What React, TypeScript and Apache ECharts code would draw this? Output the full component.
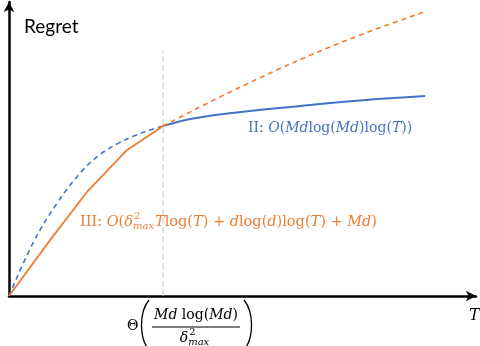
import React, { useEffect, useRef } from "react";
import * as echarts from "echarts";

// Abstract axis units: T from 0 to 100, Regret from 0 to 100
const thresholdT = 33.0;
const thresholdTop = 83.7;

const orangeSolid: [number, number][] = [
  [0, 0], [8.8, 19.0], [16.7, 35.4], [25.3, 49.7], [33.0, 57.8],
];
const orangeDashed: [number, number][] = [
  [33.0, 57.8], [50.5, 71.8], [70.9, 86.1], [88.9, 96.6],
];
const blueDashed: [number, number][] = [
  [0, 0], [5.14, 18.0], [10.3, 31.6], [15.85, 42.9], [19.5, 48.1],
  [23.1, 51.7], [26.6, 54.3], [30.2, 56.5], [33.0, 57.8],
];
const blueSolid: [number, number][] = [
  [33.0, 57.8], [39.4, 60.35], [46.7, 62.05], [60.8, 64.4], [75.2, 66.5], [89.1, 68.0],
];

const ORANGE = "#ED7D31";
const BLUE = "#4472C4";
const FAMILY = "'DejaVu Serif'";

// formula pieces: [text, italic] or {sup, sub}
type Piece = [string, boolean] | { sup: string; sub: string };

const labelII: Piece[] = [
  ["II: ", false], ["O", true], ["(", false], ["Md", true], ["log(", false],
  ["Md", true], [")log(", false], ["T", true], ["))", false],
];
const labelIII: Piece[] = [
  ["III: ", false], ["O", true], ["(", false], ["δ", true], { sup: "2", sub: "max" },
  ["T", true], ["log(", false], ["T", true], [") + ", false], ["d", true],
  ["log(", false], ["d", true], [")log(", false], ["T", true], [") + ", false],
  ["Md", true], [")", false],
];
const numerator: Piece[] = [
  ["Md", true], [" log(", false], ["Md", true], [")", false],
];
const denominator: Piece[] = [["δ", true], { sup: "2", sub: "max" }];

let ctx: CanvasRenderingContext2D | null = null;
function measure(text: string, font: string) {
  if (!ctx) ctx = document.createElement("canvas").getContext("2d");
  if (!ctx) return text.length * 8;
  ctx.font = font;
  return ctx.measureText(text).width;
}

function formula(
  pieces: Piece[], x0: number, y: number, size: number, color: string,
  align: "left" | "center" = "left"
) {
  const small = Math.round(size * 0.7);
  const items: { text: string; font: string; dx: number; dy: number }[] = [];
  let x = 0;
  for (const p of pieces) {
    if (Array.isArray(p)) {
      const font = `${p[1] ? "italic " : ""}${size}px ${FAMILY}`;
      items.push({ text: p[0], font, dx: x, dy: 0 });
      x += measure(p[0], font);
    } else {
      const fs = `${small}px ${FAMILY}`;
      const fb = `italic ${small}px ${FAMILY}`;
      items.push({ text: p.sup, font: fs, dx: x + 1, dy: -size * 0.38 });
      items.push({ text: p.sub, font: fb, dx: x, dy: size * 0.33 });
      x += Math.max(measure(p.sup, fs) + 1, measure(p.sub, fb)) + 1;
    }
  }
  const start = align === "center" ? x0 - x / 2 : x0;
  return items.map((it) => ({
    type: "text",
    style: {
      x: start + it.dx, y: y + it.dy, text: it.text, font: it.font,
      fill: color, verticalAlign: "middle",
    },
  }));
}

export default function App() {
  const ref = useRef<HTMLDivElement>(null);
  useEffect(() => {
    if (!ref.current) return;
    const chart = echarts.init(ref.current, undefined, { renderer: "svg" });
    const axisCommon = {
      type: "value" as const,
      min: 0,
      max: 100,
      axisLine: {
        show: true,
        symbol: ["none", "arrow"],
        symbolSize: [8, 10],
        lineStyle: { color: "#000", width: 2.5 },
      },
      axisTick: { show: false },
      axisLabel: { show: false },
      splitLine: { show: false },
    };
    chart.setOption({
      animation: false,
      grid: { left: 9, right: 4, top: 2, bottom: 50 },
      xAxis: { ...axisCommon },
      yAxis: { ...axisCommon },
      series: [
        {
          type: "line",
          data: [[thresholdT, 0], [thresholdT, thresholdTop]],
          symbol: "none",
          lineStyle: { color: "#C8C8C8", width: 1, type: [6, 3] },
          z: 1,
        },
        {
          type: "line",
          data: orangeSolid,
          symbol: "none",
          lineStyle: { color: ORANGE, width: 1.8 },
          z: 3,
        },
        {
          type: "line",
          data: orangeDashed,
          smooth: 0.4,
          symbol: "none",
          lineStyle: { color: ORANGE, width: 1.6, type: [5, 4] },
          z: 3,
        },
        {
          type: "line",
          data: blueDashed,
          smooth: 0.4,
          symbol: "none",
          lineStyle: { color: BLUE, width: 1.6, type: [5, 4] },
          z: 2,
        },
        {
          type: "line",
          data: blueSolid,
          smooth: 0.4,
          symbol: "none",
          lineStyle: { color: BLUE, width: 2 },
          z: 2,
        },
      ],
      graphic: [
        {
          type: "text",
          style: {
            x: 24, y: 25, text: "Regret", fill: "#000",
            font: "19px Lato, 'Open Sans', sans-serif", verticalAlign: "middle",
          },
        },
        {
          type: "text",
          style: {
            x: 469, y: 314, text: "T", fill: "#000",
            font: `italic 16px ${FAMILY}`, verticalAlign: "middle",
          },
        },
        ...formula(labelII, 248, 127, 14, BLUE),
        ...formula(labelIII, 80, 221, 14.5, ORANGE),
        {
          type: "text",
          style: { x: 127, y: 325, verticalAlign: "middle", text: "Θ", fill: "#000", font: `14px ${FAMILY}` },
        },
        {
          type: "bezierCurve",
          shape: { x1: 149, y1: 300, x2: 149, y2: 350, cpx1: 139, cpy1: 312, cpx2: 139, cpy2: 338 },
          style: { stroke: "#000", lineWidth: 1.3, fill: "none" },
        },
        {
          type: "bezierCurve",
          shape: { x1: 244, y1: 300, x2: 244, y2: 350, cpx1: 254, cpy1: 312, cpx2: 254, cpy2: 338 },
          style: { stroke: "#000", lineWidth: 1.3, fill: "none" },
        },
        ...formula(numerator, 196, 314, 14, "#000", "center"),
        {
          type: "line",
          shape: { x1: 152, y1: 327, x2: 240, y2: 327 },
          style: { stroke: "#000", lineWidth: 1 },
        },
        ...formula(denominator, 195, 337, 14, "#000", "center"),
      ],
    });
    return () => chart.dispose();
  }, []);
  return (
    <div
      ref={ref}
      style={{ position: "fixed", left: 0, top: 0, width: 480, height: 346 }}
    />
  );
}
